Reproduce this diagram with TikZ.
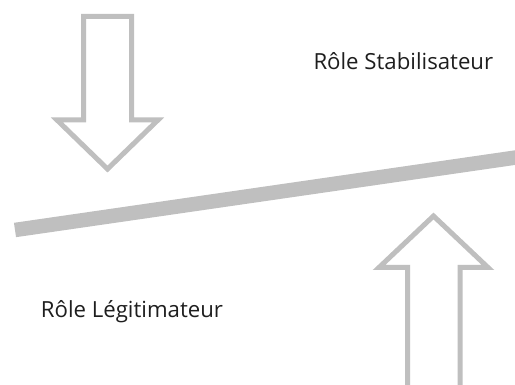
\documentclass[tikz,border=0pt]{standalone}
\usepackage{fontspec}
\setmainfont{Open Sans}
\usetikzlibrary{positioning}
\definecolor{armgray}{RGB}{191,191,191}
\definecolor{labelink}{RGB}{30,30,30}
\tikzset{
  role_font/.style = {font=\fontsize{22.2}{26}\selectfont},
  role/.style = {role_font, text=labelink, inner sep=0, anchor=base west},
  push/.style = {draw=armgray, line width=5, line join=miter, fill=white},
  beam/.style = {draw=armgray, line width=14.5}
}
\begin{document}
\begin{tikzpicture}[x=1pt, y=-1pt]
    \useasboundingbox (0,0) rectangle (515,385);

    % beam
    \coordinate (b_l) at (15,230);
    \coordinate (b_r) at (520,156.9);
    \draw[beam] (b_l)--(b_r);

    % pushing arrows
    \draw[push] (83.5,16.5)--(131.5,16.5)--(131.5,120)--(158,120)
        --(107.5,169)--(57,120)--(83.5,120)--cycle;
    \draw[push] (407.5,395)--(407.5,267.5)--(379,267.5)--(433.5,216)
        --(488,267.5)--(460,267.5)--(460,395);

    % roles
    \node[role] (stab) at (313.3,69.5) {Rôle Stabilisateur};
    \node[role] (legit) at (40.7,317.5) {Rôle Légitimateur};
\end{tikzpicture}
\end{document}
